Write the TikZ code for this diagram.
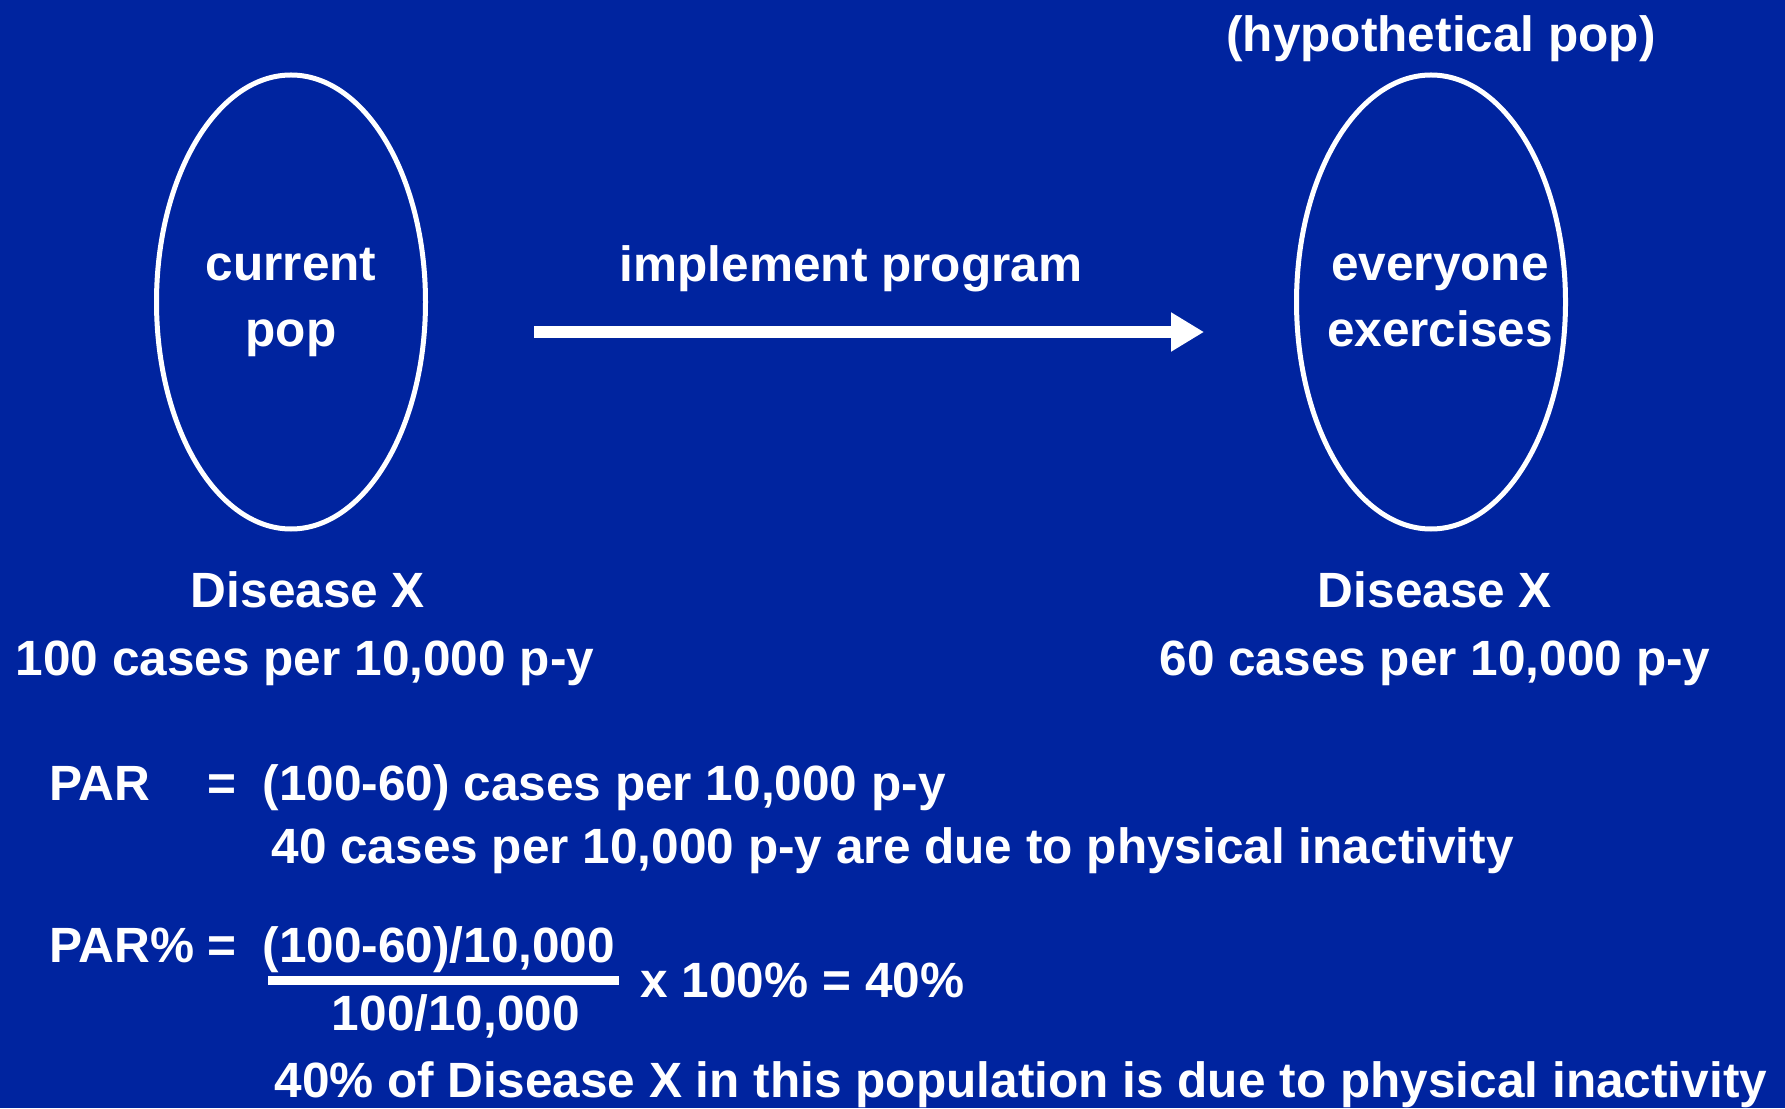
\documentclass[tikz,border=0pt]{standalone}
\usepackage{fontspec}
\setmainfont{Liberation Sans}
\usetikzlibrary{shapes.geometric,arrows.meta}
\definecolor{slideblue}{RGB}{0,36,159}

\begin{document}
\begin{tikzpicture}[line width=0.05cm,
  every node/.style={text=white,inner sep=0pt,font=\fontsize{14.1pt}{18.8pt}\selectfont\bfseries},
  popring/.style={draw=white,ellipse,minimum width=2.69cm,minimum height=4.54cm},
  rate/.style={anchor=base},
  eqline/.style={anchor=base west}]
  \fill[slideblue] (0,0) rectangle (17.85,11.08);
  \node[popring] (curpop) at (2.91,8.06) {};
  \node[popring] (hyppop) at (14.31,8.06) {};
  \node[align=center] (curlbl) at (2.91,8.055) {current\\pop};
  \node[align=center] (hyplbl) at (14.40,8.08) {everyone\\exercises};
  \node[rate] (hyptitle) at (14.41,10.56) {(hypothetical pop)};
  \node[rate] (implbl) at (8.51,8.26) {implement program};
  \coordinate (progstart) at (5.34,7.76);
  \coordinate (progend) at (12.04,7.76);
  \draw[white,line width=0.12cm,-{Triangle[length=0.33cm,width=0.37cm]}] (progstart) -- (progend);
  \node[rate] (curdis) at (3.08,5.01) {Disease X};
  \node[rate] (currate) at (3.05,4.33) {100 cases per 10,000 p-y};
  \node[rate] (hypdis) at (14.35,5.01) {Disease X};
  \node[rate] (hyprate) at (14.35,4.33) {60 cases per 10,000 p-y};
  \node[eqline] (par) at (0.47,3.08) {PAR};
  \node[eqline] (pareq) at (2.05,3.08) {=};
  \node[eqline] (pardiff) at (2.60,3.08) {(100-60) cases per 10,000 p-y};
  \node[eqline] (parnote) at (2.69,2.45) {40 cases per 10,000 p-y are due to physical inactivity};
  \node[eqline] (parpct) at (0.47,1.46) {PAR\%};
  \node[eqline] (pcteq) at (2.05,1.46) {=};
  \node[eqline] (numer) at (2.60,1.46) {(100-60)/10,000};
  \draw[white,line width=0.09cm] (2.68,1.28) -- (6.19,1.28);
  \node[rate] (denom) at (4.56,0.78) {100/10,000};
  \node[eqline] (times) at (6.38,1.11) {x 100\% = 40\%};
  \node[eqline] (pctnote) at (2.72,0.11) {40\% of Disease X in this population is due to physical inactivity};
\end{tikzpicture}
\end{document}
